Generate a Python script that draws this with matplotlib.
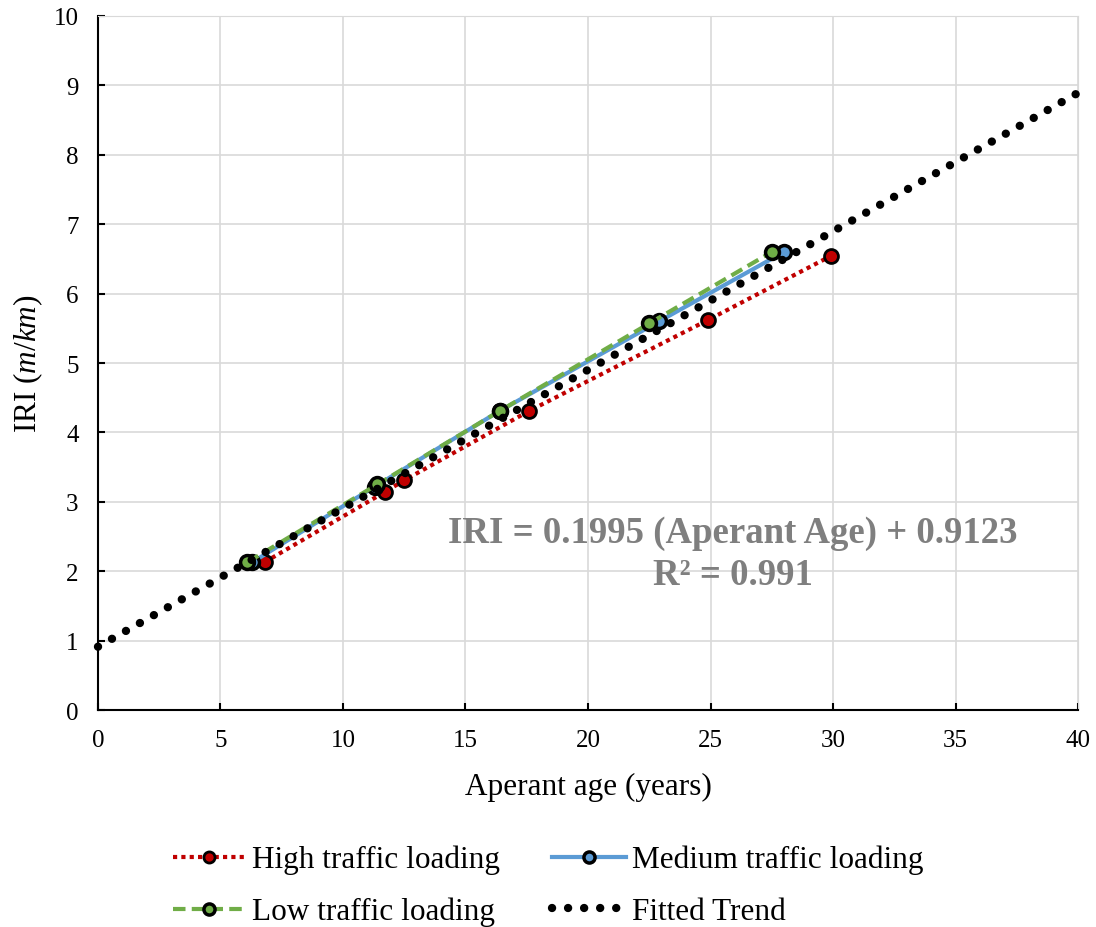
import matplotlib.pyplot as plt
import numpy as np

plt.rcParams['font.family'] = ['Liberation Serif', 'DejaVu Serif']
plt.rcParams['mathtext.fontset'] = 'custom'
plt.rcParams['mathtext.rm'] = 'Liberation Serif'
plt.rcParams['mathtext.it'] = 'Liberation Serif:italic'

# data
high_x = [6.8, 11.7, 12.5, 17.6, 24.9, 29.9]
high_y = [2.13, 3.14, 3.31, 4.31, 5.62, 6.54]
med_x = [6.3, 11.3, 16.4, 22.9, 28.0]
med_y = [2.13, 3.22, 4.31, 5.60, 6.60]
low_x = [6.1, 11.4, 16.4, 22.5, 27.5]
low_y = [2.13, 3.25, 4.31, 5.57, 6.60]
slope, intercept = 0.1995, 0.9123
trend_x = [0, 40]

fig = plt.figure(figsize=(10.96, 9.28), dpi=100)
ax = fig.add_axes([0.0894, 0.2338, 0.8942, 0.7479])

h_high, = ax.plot(high_x, high_y, color='#C00000', lw=3, linestyle=(0, (1, 1)),
                  marker='o', ms=10, mfc='#C00000', mec='black', mew=2,
                  label='High traffic loading', zorder=3)
h_med, = ax.plot(med_x, med_y, color='#5B9BD5', lw=3, linestyle='-',
                 marker='o', ms=10, mfc='#5B9BD5', mec='black', mew=2.5,
                 label='Medium traffic loading', zorder=3)
h_low, = ax.plot(low_x, low_y, color='#70AD47', lw=3, linestyle=(0, (3, 1.5)),
                 marker='o', ms=10, mfc='#70AD47', mec='black', mew=2.5,
                 label='Low traffic loading', zorder=3)

tx = np.array(trend_x, dtype=float)
h_fit, = ax.plot(tx, slope * tx + intercept, color='black', lw=6,
                 linestyle=(0, (0.01, 1.915)), dash_capstyle='round',
                 label='Fitted Trend', zorder=4, clip_on=False)

ax.set_xlim(0, 40)
ax.set_ylim(0, 10)
ax.set_xticks(range(0, 41, 5))
ax.set_yticks(range(0, 11))
ax.grid(True, color='#D9D9D9', lw=1.2)
ax.set_axisbelow(True)
for s in ['top', 'right']:
    ax.spines[s].set_color('#D9D9D9')
for s in ['left', 'bottom']:
    ax.spines[s].set_color('black')
    ax.spines[s].set_linewidth(1.5)
ax.tick_params(direction='in', length=5, width=1.5, labelsize=18, pad=14)

ax.set_xlabel('Aperant age (years)', fontsize=22.5, labelpad=15)
ax.set_ylabel(r'IRI $\mathit{(m/km)}$', fontsize=22.5, labelpad=6)

ax.text(0.648, 0.225, 'IRI = 0.1995 (Aperant Age) + 0.9123\nR\u00b2 = 0.991',
        transform=ax.transAxes, ha='center', va='center', fontsize=26.5,
        fontweight='bold', color='#7F7F7F', linespacing=1.25)

# row-wise order: High, Medium / Low, Fitted
fig.legend([h_high, h_low, h_med, h_fit],
           ['High traffic loading', 'Low traffic loading',
            'Medium traffic loading', 'Fitted Trend'],
           loc='center', bbox_to_anchor=(0.5, 0.0445), ncol=2, frameon=False,
           fontsize=22.5, handlelength=2.35, columnspacing=1.66, labelspacing=0.72,
           handletextpad=0.2, markerscale=0.8)

fig.savefig('out.png', dpi=100)
